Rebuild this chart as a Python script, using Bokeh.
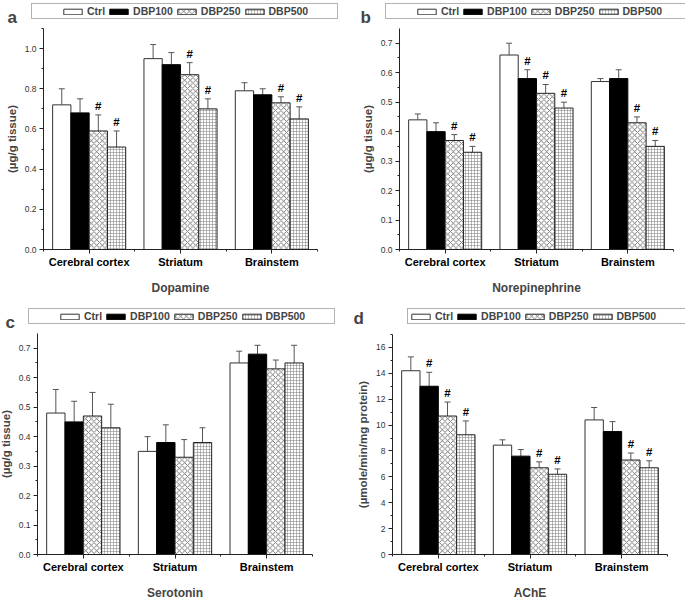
from bokeh.plotting import figure
from bokeh.models import (Range1d, FixedTicker, SingleIntervalTicker, NumeralTickFormatter,
                          ColumnDataSource, Whisker, TeeHead, Legend, LegendItem, Label,
                          LinearAxis)
from bokeh.layouts import row, column
from bokeh.embed import file_html
from bokeh.resources import INLINE
from bokeh.core.properties import value

groups = ["Cerebral cortex", "Striatum", "Brainstem"]
series = ["Ctrl", "DBP100", "DBP250", "DBP500"]

# (a) Dopamine, rows = series, cols = groups
da_mean = [[0.72, 0.95, 0.79], [0.68, 0.92, 0.77], [0.59, 0.87, 0.73], [0.51, 0.70, 0.65]]
da_err = [[0.08, 0.07, 0.04], [0.07, 0.06, 0.03], [0.08, 0.06, 0.03], [0.08, 0.05, 0.06]]
da_sig = [[0, 0, 0], [0, 0, 0], [1, 1, 1], [1, 1, 1]]

# (b) Norepinephrine
ne_mean = [[0.44, 0.66, 0.57], [0.40, 0.58, 0.58], [0.37, 0.53, 0.43], [0.33, 0.48, 0.35]]
ne_err = [[0.02, 0.04, 0.01], [0.03, 0.03, 0.03], [0.02, 0.03, 0.02], [0.02, 0.02, 0.02]]
ne_sig = [[0, 0, 0], [0, 1, 0], [1, 1, 1], [1, 1, 1]]

# (c) Serotonin
se_mean = [[0.48, 0.35, 0.65], [0.45, 0.38, 0.68], [0.47, 0.33, 0.63], [0.43, 0.38, 0.65]]
se_err = [[0.08, 0.05, 0.04], [0.07, 0.06, 0.03], [0.08, 0.06, 0.03], [0.08, 0.05, 0.06]]
se_sig = [[0, 0, 0], [0, 0, 0], [0, 0, 0], [0, 0, 0]]

# (d) AChE
ac_mean = [[14.2, 8.45, 10.4], [13.0, 7.6, 9.5], [10.7, 6.7, 7.3], [9.25, 6.2, 6.7]]
ac_err = [[1.07, 0.41, 0.96], [1.08, 0.51, 0.77], [1.08, 0.46, 0.54], [1.07, 0.41, 0.54]]
ac_sig = [[0, 0, 0], [1, 0, 0], [1, 1, 1], [1, 1, 1]]

FONT = "Liberation Sans"
BAR_W = 0.2
LEG_H = 16
styles = [
    dict(fill_color="white", line_color="#333333"),
    dict(fill_color="black", line_color="black"),
    dict(fill_color="white", line_color="#222222", hatch_pattern="diagonal_cross",
         hatch_scale=5.5, hatch_weight=0.8, hatch_color="#555555"),
    dict(fill_color="white", line_color="#222222", hatch_pattern="cross",
         hatch_scale=3, hatch_weight=0.5, hatch_color="#777777"),
]


def make_panel(letter, mean, err, sig, ymax, interval, fmt, ylabel, xlabel,
               W, H, box, legend_xy, letter_xy, lead_pad=True, trail_pad=True):
    # box = pixel extent of the axes (left, right, top, bottom) inside the canvas
    left, right, top, bottom = box
    xlo, xhi = 0.5, len(groups) + 0.5
    sx = (xhi - xlo) / (right - left)
    sy = ymax / (bottom - top)
    p = figure(width=W, height=H,
               x_range=Range1d(xlo - left * sx, xhi + (W - right) * sx),
               y_range=Range1d(-(H - bottom) * sy, ymax + top * sy),
               output_backend="svg", toolbar_location=None, min_border=0,
               x_axis_location=None, y_axis_location=None)
    p.outline_line_color = None
    p.grid.visible = False

    base = list(range(1, len(groups) + 1))
    dummy = p.vbar(x=[], top=[], width=BAR_W, fill_alpha=0, line_alpha=0)
    items = [LegendItem(label=" ", renderers=[dummy])] if lead_pad else []
    for i, name in enumerate(series):
        off = (i - (len(series) - 1) / 2) * BAR_W
        xs = [g + off for g in base]
        ups = [m + e for m, e in zip(mean[i], err[i])]
        src = ColumnDataSource(dict(x=xs, top=mean[i], upper=ups))
        r = p.vbar(x="x", top="top", width=BAR_W, source=src, line_width=1, **styles[i])
        items.append(LegendItem(label=name, renderers=[r]))
        wh = Whisker(base="x", lower="top", upper="upper", source=src, dimension="height",
                     line_color="#555555", line_width=1,
                     upper_head=TeeHead(size=6, line_color="#555555", line_width=1),
                     lower_head=None)
        p.add_layout(wh)
        tx = [x for x, s in zip(xs, sig[i]) if s]
        ty = [u for u, s in zip(ups, sig[i]) if s]
        if tx:
            p.text(x=tx, y=ty, text=["#"] * len(tx), text_align="center",
                   text_baseline="bottom", y_offset=-3, text_font=value(FONT),
                   text_font_style="bold", text_font_size="11.5px", text_color="black")
    if trail_pad:
        items.append(LegendItem(label=" ", renderers=[dummy]))

    legend = Legend(items=items, orientation="horizontal",
                    location=(legend_xy[0], H - legend_xy[1] - LEG_H),
                    glyph_width=23, glyph_height=7, label_standoff=3, spacing=2,
                    padding=1, margin=0, label_height=10, label_width=0,
                    label_text_font=FONT, label_text_font_style="bold",
                    label_text_font_size="10.5px", border_line_color="#666666",
                    border_line_width=1, background_fill_color="white",
                    background_fill_alpha=1)
    p.add_layout(legend)
    p.add_layout(Label(x=letter_xy[0], y=H - letter_xy[1], x_units="screen",
                       y_units="screen", text=letter, text_font=FONT,
                       text_font_style="bold", text_font_size="17px",
                       text_baseline="alphabetic"))

    xa = LinearAxis(fixed_location=0, bounds=(xlo, xhi))
    xa.ticker = FixedTicker(ticks=base, minor_ticks=[b - 0.5 for b in base] + [xhi])
    xa.major_label_overrides = {b: g for b, g in zip(base, groups)}
    xa.major_label_text_font = FONT
    xa.major_label_text_font_style = "bold"
    xa.major_label_text_font_size = "11px"
    xa.major_label_text_color = "black"
    xa.major_label_standoff = 2
    xa.axis_label = xlabel
    xa.axis_label_text_font = FONT
    xa.axis_label_text_font_style = "bold"
    xa.axis_label_text_font_size = "12px"
    xa.axis_label_standoff = 10
    p.add_layout(xa, "below")

    ya = LinearAxis(fixed_location=xlo, bounds=(0, ymax))
    ya.ticker = SingleIntervalTicker(interval=interval, num_minor_ticks=2)
    ya.formatter = NumeralTickFormatter(format=fmt)
    ya.major_label_text_font = FONT
    ya.major_label_text_font_size = "8.5px"
    ya.major_label_text_color = "#333333"
    ya.major_label_standoff = 3
    ya.axis_label = ylabel
    ya.axis_label_text_font = FONT
    ya.axis_label_text_font_style = "bold"
    ya.axis_label_text_font_size = "11.5px"
    ya.axis_label_standoff = 4
    p.add_layout(ya, "left")

    for ax in (xa, ya):
        ax.axis_line_color = "#222222"
        ax.major_tick_line_color = "#222222"
        ax.minor_tick_line_color = "#222222"
        ax.major_tick_in = 0
        ax.major_tick_out = 4
        ax.minor_tick_in = 0
        ax.minor_tick_out = 2
    return p


pa = make_panel("a", da_mean, da_err, da_sig, 1.1, 0.2, "0.0", "(µg/g tissue)", "Dopamine",
                340, 300, (43, 317, 28, 249), (31, 3), (7, 17))
pb = make_panel("b", ne_mean, ne_err, ne_sig, 0.75, 0.1, "0.0", "(µg/g tissue)",
                "Norepinephrine", 345, 300, (59, 333, 28, 249), (45, 3), (20, 17))
pc = make_panel("c", se_mean, se_err, se_sig, 0.75, 0.1, "0.0", "(µg/g tissue)", "Serotonin",
                340, 299, (37, 312, 33, 254), (28, 8), (5, 22))
pd_ = make_panel("d", ac_mean, ac_err, ac_sig, 17, 2, "0", "(µmole/min/mg protein)", "AChE",
                 345, 299, (52, 327, 34, 254), (67, 8), (13, 18), lead_pad=False)

layout = column(row(pa, pb), row(pc, pd_))
open("out.html", "w").write(file_html(layout, INLINE))
